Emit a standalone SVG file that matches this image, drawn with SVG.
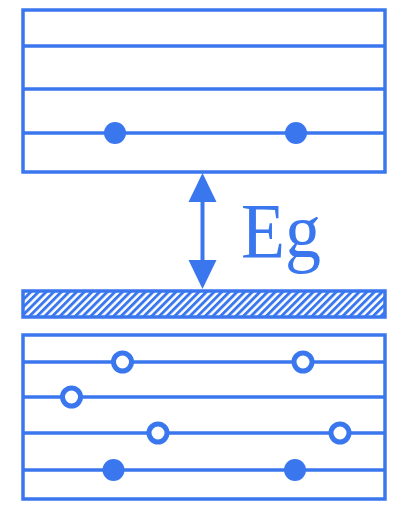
<svg xmlns="http://www.w3.org/2000/svg" width="400" height="511" viewBox="0 0 400 511">
<defs>
<style>
.b{fill:none;stroke:#3a77ee;stroke-width:3.5}
.l{stroke:#3a77ee;stroke-width:3.5}
.dot{fill:#3a77ee}
.hole{fill:#fff;stroke:#3a77ee;stroke-width:5}
.t{font-family:"Liberation Serif","Times New Roman",Times,serif;fill:#3a77ee}
</style>
<pattern id="hatch" patternUnits="userSpaceOnUse" width="5.4" height="5.4" patternTransform="rotate(45)">
<rect x="0" y="0" width="2.9" height="5.4" fill="#3a77ee"/>
</pattern>
</defs>
<rect width="400" height="511" fill="#fff"/>
<g id="conduction-band">
<rect class="b" x="23" y="10" width="362" height="162"/>
<line class="l" x1="23" y1="46" x2="385" y2="46"/>
<line class="l" x1="23" y1="89" x2="385" y2="89"/>
<line class="l" x1="23" y1="133" x2="385" y2="133"/>
<circle class="dot" cx="115" cy="133" r="11"/>
<circle class="dot" cx="296" cy="133" r="11"/>
</g>
<g id="gap-arrow">
<line x1="202.5" y1="195" x2="202.5" y2="268" stroke="#3a77ee" stroke-width="4"/>
<path class="dot" d="M202.5,173 L216.5,202 L188.5,202 z"/>
<path class="dot" d="M202.5,289 L216.5,260 L188.5,260 z"/>
<text class="t" x="241" y="257" font-size="78" textLength="80" lengthAdjust="spacingAndGlyphs">Eg</text>
</g>
<g id="fermi-level">
<rect x="23" y="291" width="362" height="26" fill="url(#hatch)" stroke="#3a77ee" stroke-width="3.5"/>
</g>
<g id="valence-band">
<rect class="b" x="23" y="335" width="362" height="164"/>
<line class="l" x1="23" y1="362" x2="385" y2="362"/>
<line class="l" x1="23" y1="397" x2="385" y2="397"/>
<line class="l" x1="23" y1="433" x2="385" y2="433"/>
<line class="l" x1="23" y1="470" x2="385" y2="470"/>
<circle class="hole" cx="122.5" cy="362" r="9"/>
<circle class="hole" cx="303" cy="362" r="9"/>
<circle class="hole" cx="71.5" cy="397" r="9"/>
<circle class="hole" cx="158" cy="433" r="9"/>
<circle class="hole" cx="340" cy="433" r="9"/>
<circle class="dot" cx="113.5" cy="470" r="11"/>
<circle class="dot" cx="295" cy="470" r="11"/>
</g>
</svg>
